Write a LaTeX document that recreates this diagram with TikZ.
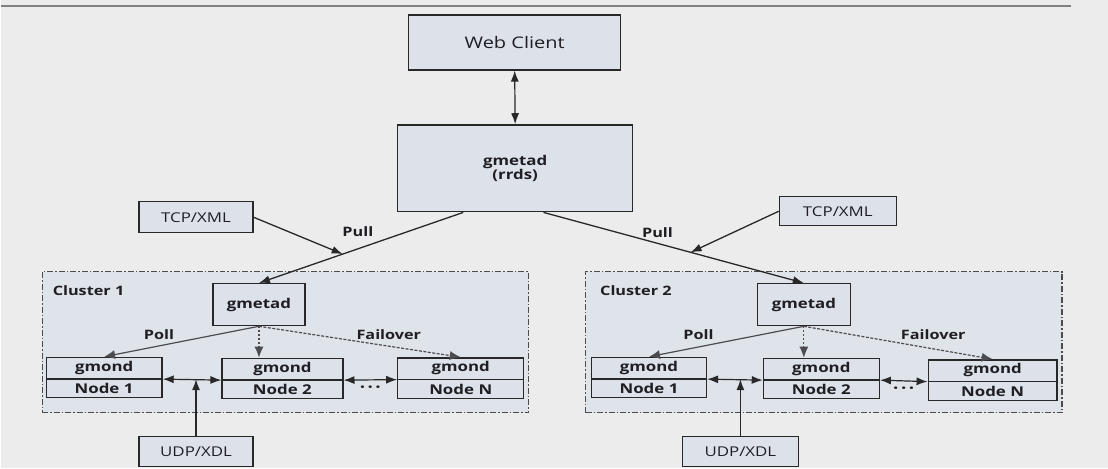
\documentclass[tikz,border=0pt]{standalone}
\usepackage{fontspec}
\setmainfont[FakeStretch=1.25]{Open Sans}
\usetikzlibrary{arrows.meta,positioning,calc,shapes.multipart}
\definecolor{bggray}{RGB}{236,236,236}
\definecolor{rulegray}{RGB}{128,128,128}
\definecolor{boxfill}{RGB}{220,225,234}
\definecolor{clusterfill}{RGB}{223,228,235}
\definecolor{linegray}{RGB}{40,40,40}
\definecolor{softgray}{RGB}{75,75,80}
\definecolor{textdark}{RGB}{30,30,35}
\tikzset{
  wbox/.style={draw=linegray, fill=boxfill, line width=1.3pt, inner sep=0pt, align=center, text=textdark},
  sbox/.style={draw=linegray, fill=boxfill, line width=1.3pt, inner sep=0pt, text=textdark,
               minimum height=30pt, font=\fontsize{13.5}{15}\selectfont},
  gbox/.style={draw=linegray, fill=boxfill, line width=1.3pt, inner sep=0pt, text=textdark,
               minimum height=42pt, font=\fontsize{13.5}{15}\selectfont\bfseries},
  nbox/.style={rectangle split, rectangle split parts=2, draw=linegray, fill=boxfill, text=textdark,
               line width=1.3pt, inner xsep=0pt, inner ysep=3.5pt, text height=10pt, text depth=3.5pt,
               align=center, font=\fontsize{13.5}{15}\selectfont\bfseries},
  cbox/.style={draw=softgray, fill=clusterfill, line width=1.2pt,
               dash pattern=on 6pt off 2pt on 1.5pt off 2pt, minimum height=141pt, inner sep=0pt},
  lbl/.style={font=\fontsize{13}{14}\selectfont\bfseries, inner sep=1pt, text=textdark},
  pull/.style={-{Latex[length=11pt,width=8pt]}, line width=1.3pt, draw=linegray},
  poll/.style={-{Latex[length=11pt,width=9pt]}, line width=1.2pt, draw=softgray},
  failarrow/.style={poll, dash pattern=on 3pt off 1.5pt},
  dotarrow/.style={poll, dash pattern=on 2pt off 2pt},
  link/.style={{Latex[length=11pt,width=8pt]}-{Latex[length=11pt,width=8pt]}, line width=1.2pt, draw=linegray},
}
\begin{document}
\begin{tikzpicture}[x=1pt, y=-1pt]
    \fill[bggray] (0,0) rectangle (1108,469);
    \draw[rulegray, line width=2.5pt] (0,6) -- (1071,6);
    \node[wbox, minimum width=212pt, minimum height=55pt, font=\fontsize{16}{18}\selectfont] (wc) at (514,42.5) {Web Client};
    \node[wbox, minimum width=235pt, minimum height=87pt, font=\fontsize{13.5}{14}\selectfont\bfseries] (rrds) at (514.5,168.5) {gmetad\\(rrds)};
    \draw[link] (wc.south) -- (rrds.north);
    % cluster 1
    \node[cbox, minimum width=487pt] (cl1) at (284.5,342.5) {};
    \node[lbl, anchor=west] (cl1lbl) at ($(cl1.north west)+(10,20)$) {Cluster 1};
    \node[gbox, minimum width=92pt] (g1) at (258,305) {gmetad};
    \node[nbox, text width=116pt] (n11) at (103,378) {gmond\nodepart{two}Node 1};
    \node[nbox, text width=121pt] (n12) at (281.5,379) {gmond\nodepart{two}Node 2};
    \node[nbox, text width=126pt] (n1N) at (460,378.5) {gmond\nodepart{two}Node N};
    \node[sbox, minimum width=114pt, minimum height=31pt] (tcp1) at (195,217.5) {TCP/XML};
    \node[sbox, minimum width=114pt] (udp1) at (195,452) {UDP/XDL};
    \draw[pull] ($(rrds.south west)!0.28!(rrds.south east)$) -- coordinate[pos=0.59] (j1) (g1.north);
    \draw[pull] (tcp1.east) -- (j1);
    \node[lbl] (pull1) at (357,232) {Pull};
    \draw[poll] (g1.south) -- (n11.north);
    \draw[dotarrow] (g1.south) -- (g1.south |- n12.north);
    \draw[failarrow] (g1.south) -- (n1N.north);
    \node[lbl] (poll1) at (158,335) {Poll};
    \node[lbl] (fail1) at (388,335) {Failover};
    \draw[link] (n11.text split east) -- (n12.text split west);
    \draw[link] (n12.text split east) -- (n1N.text split west);
    \draw[pull] (udp1.north) -- (udp1.north |- n11.text split east);
    \node[lbl, font=\fontsize{15}{15}\selectfont\bfseries] (dots1) at ($(n12.south east)!0.5!(n1N.south west)+(0,-10)$) {·\,·\,·};
    % cluster 2
    \node[cbox, minimum width=477pt] (cl2) at (823.5,342.5) {};
    \node[lbl, anchor=west] (cl2lbl) at ($(cl2.north west)+(14,20)$) {Cluster 2};
    \node[gbox, minimum width=93pt] (g2) at (803.5,305) {gmetad};
    \node[nbox, text width=115pt] (n21) at (648.5,378) {gmond\nodepart{two}Node 1};
    \node[nbox, text width=116pt] (n22) at (821,379) {gmond\nodepart{two}Node 2};
    \node[nbox, text width=129pt] (n2N) at (992.5,380.5) {gmond\nodepart{two}Node N};
    \node[sbox, minimum width=117pt, minimum height=29pt] (tcp2) at (837.5,211.5) {TCP/XML};
    \node[sbox, minimum width=116pt] (udp2) at (740,452) {UDP/XDL};
    \draw[pull] ($(rrds.south west)!0.62!(rrds.south east)$) -- coordinate[pos=0.565] (j2) (g2.north);
    \draw[pull] (tcp2.west) -- (j2);
    \node[lbl] (pull2) at (657,233) {Pull};
    \draw[poll] (g2.south) -- (n21.north);
    \draw[dotarrow] (g2.south) -- (g2.south |- n22.north);
    \draw[failarrow] (g2.south) -- (n2N.north);
    \node[lbl] (poll2) at (698,335) {Poll};
    \node[lbl] (fail2) at (933,335) {Failover};
    \draw[link] (n21.text split east) -- (n22.text split west);
    \draw[link] (n22.text split east) -- (n2N.text split west);
    \draw[pull] (udp2.north) -- (udp2.north |- n21.text split east);
    \node[lbl, font=\fontsize{15}{15}\selectfont\bfseries] (dots2) at ($(n22.south east)!0.5!(n2N.south west)+(0,-10)$) {·\,·\,·};
\end{tikzpicture}
\end{document}
